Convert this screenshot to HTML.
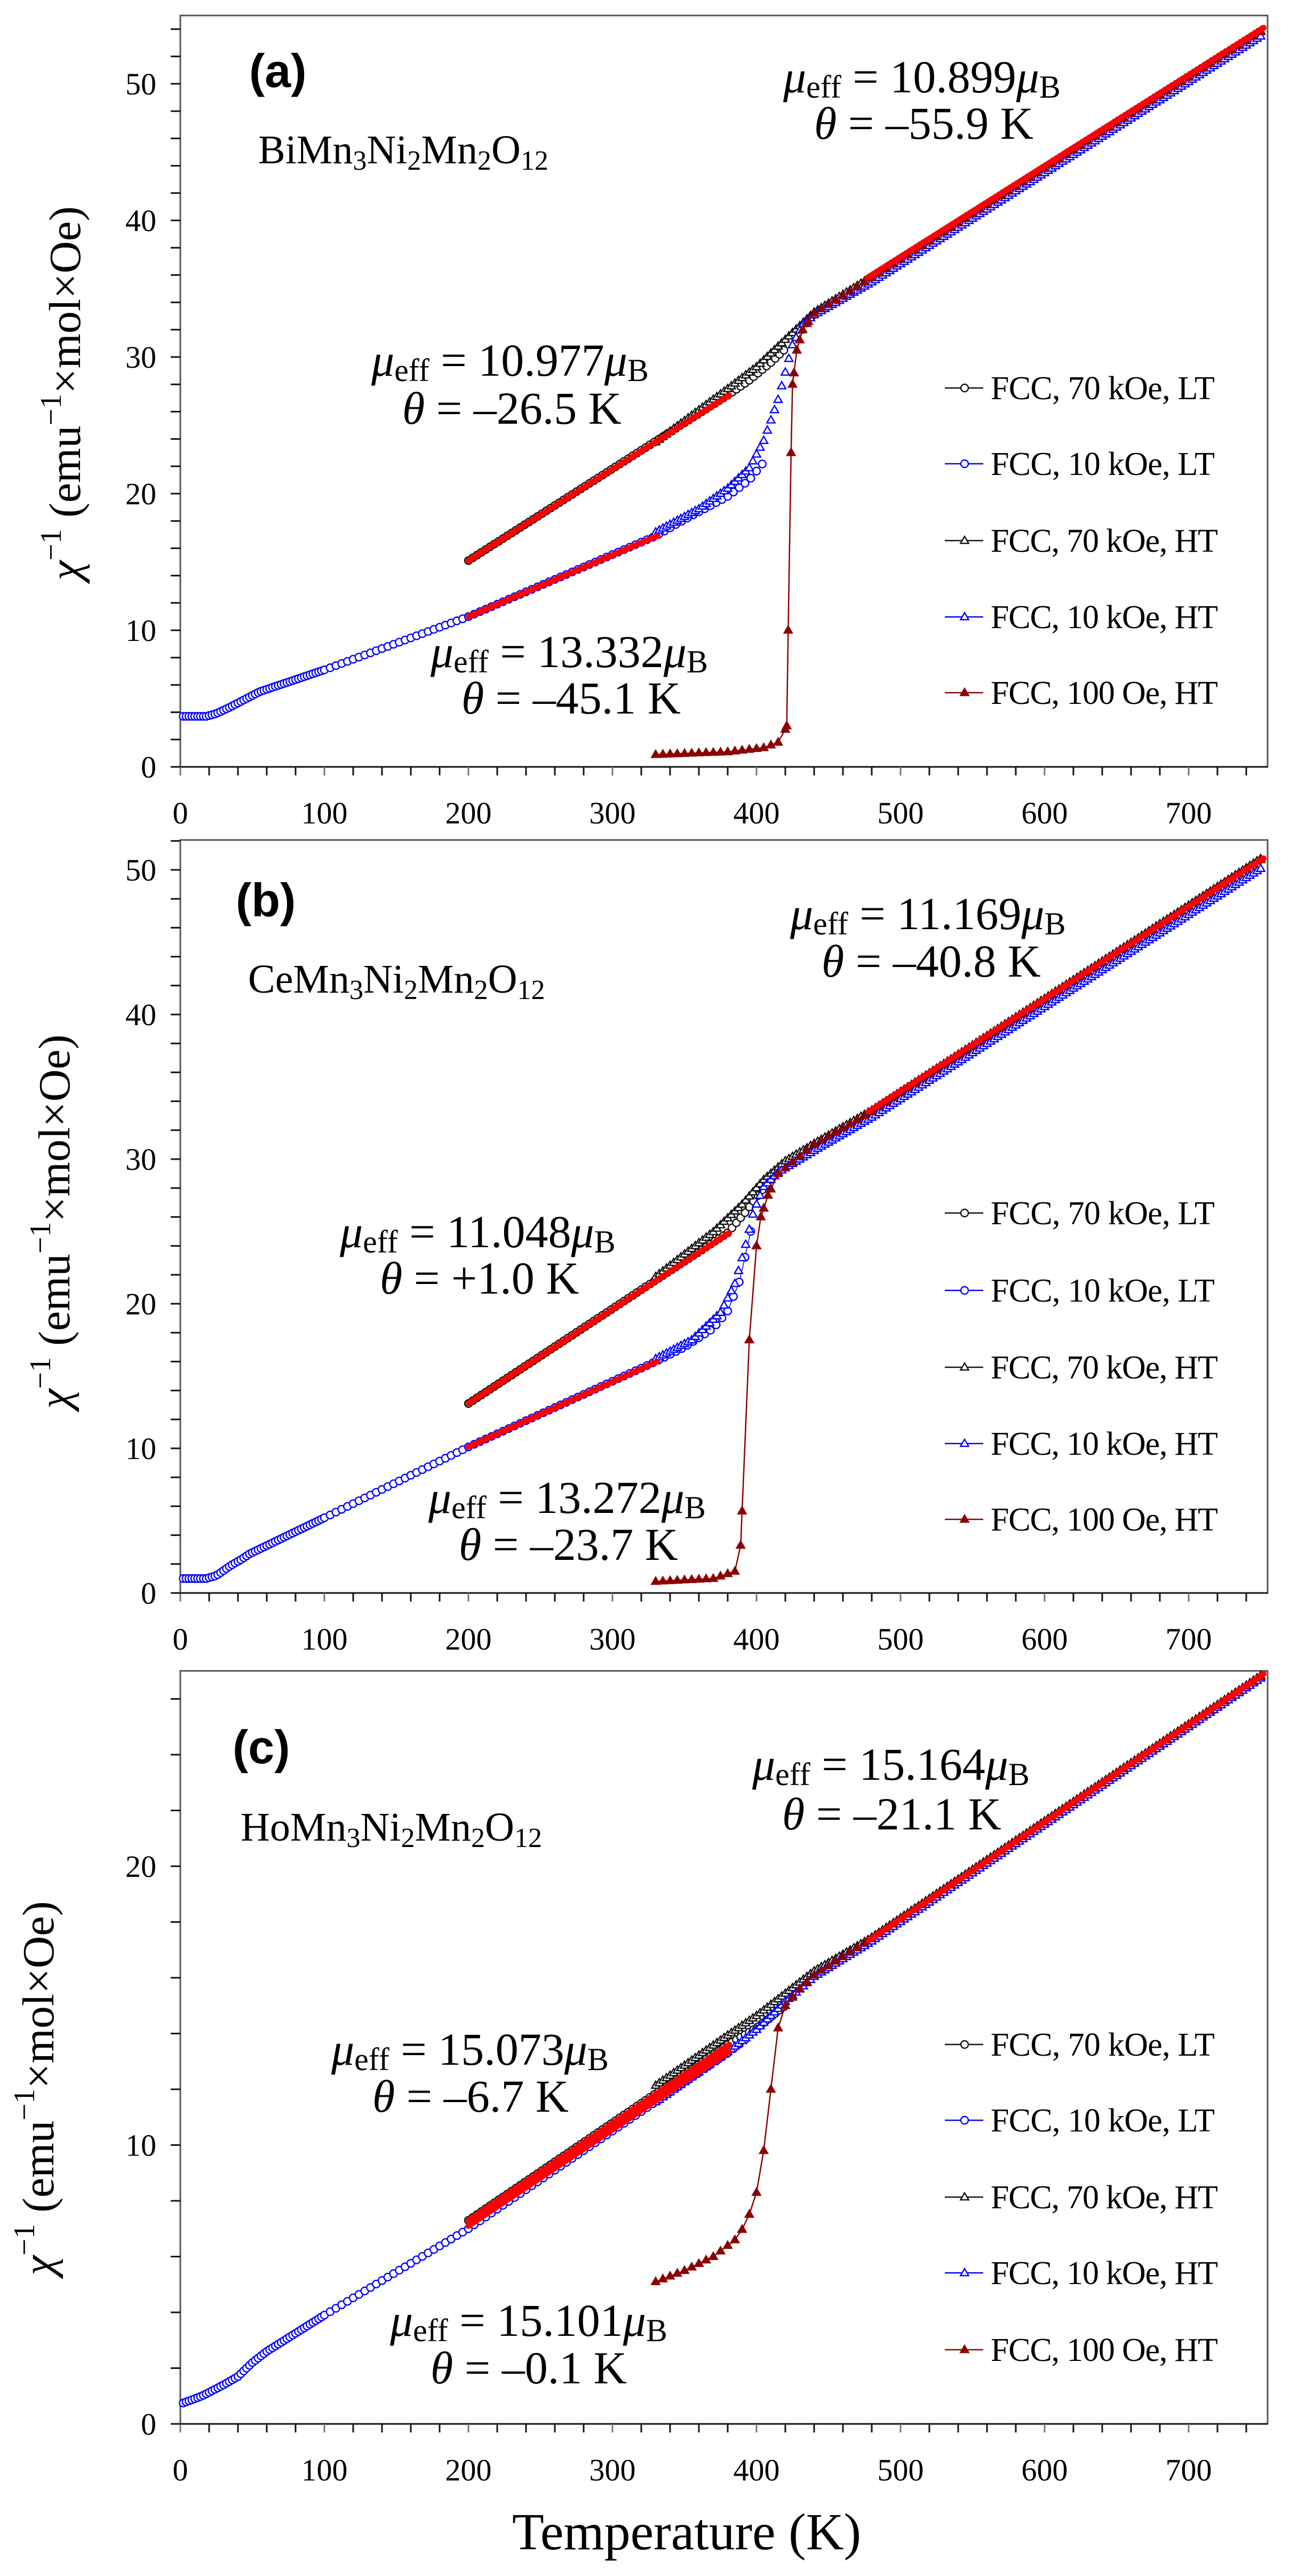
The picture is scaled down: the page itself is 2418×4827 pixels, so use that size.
<!DOCTYPE html>
<html><head><meta charset="utf-8">
<style>
html,body{margin:0;padding:0;background:#fff;}
svg{display:block;}
</style></head>
<body>
<svg id="s" xmlns="http://www.w3.org/2000/svg" width="2418" height="4827" viewBox="0 0 2418 4827" font-family="'Liberation Serif', serif"></svg>
<script>
const S=document.getElementById('s');
let out='';
const SER="font-family=\"'Liberation Serif', serif\"";
const X0=338,PX=2.7,RIGHT=2376;
function interp(kp,T){
  if(T<=kp[0][0])return kp[0][1];
  for(let i=1;i<kp.length;i++){
    if(T<=kp[i][0]){const a=kp[i-1],b=kp[i];return a[1]+(b[1]-a[1])*(T-a[0])/(b[0]-a[0]);}
  }
  return kp[kp.length-1][1];
}
function range(a,b,st){const r=[];for(let t=a;t<=b+1e-6;t+=st)r.push(t);return r;}
function tri(x,y,r,fill,stroke){
  return `<polygon points="${x},${y-r} ${x-r*0.95},${y+r*0.65} ${x+r*0.95},${y+r*0.65}" fill="${fill}" stroke="${stroke}" stroke-width="2.4"/>`;
}
function panel(P){
  const fx=T=>X0+T*PX, fy=v=>P.y0-v*P.pyu;
  out+=`<rect x="${X0}" y="${P.top}" width="${RIGHT-X0}" height="${P.y0-P.top}" fill="none" stroke="#555" stroke-width="3"/>`;
  out+=`<line x1="320" y1="${P.y0}" x2="${RIGHT}" y2="${P.y0}" stroke="#111" stroke-width="3"/>`;
  for(let T=0;T<=750;T+=20){const x=fx(T);out+=`<line x1="${x}" y1="${P.y0}" x2="${x}" y2="${P.y0+16}" stroke="${T%100==0?'#777':'#111'}" stroke-width="3"/>`;}
  for(let T=0;T<=700;T+=100){out+=`<text ${SER} x="${fx(T)}" y="${P.y0+106}" font-size="58" text-anchor="middle">${T}</text>`;}
  for(let v=0;v<=P.ymax;v+=2){const y=fy(v);out+=`<line x1="${X0-18}" y1="${y}" x2="${X0}" y2="${y}" stroke="#111" stroke-width="3"/>`;}
  for(let v=0;v<=P.ymax;v+=10){out+=`<text ${SER} x="${X0-45}" y="${fy(v)+20}" font-size="58" text-anchor="end">${v}</text>`;}
  out+=`<text ${SER} transform="translate(${P.lx},${P.ly}) rotate(-90)" font-size="84" text-anchor="middle"><tspan font-style="italic">χ</tspan><tspan font-size="56" dy="-36">−1</tspan><tspan dy="36"> (emu</tspan><tspan font-size="56" dy="-36">−1</tspan><tspan dy="36">×mol×Oe)</tspan></text>`;
  const pts=(kp,a,b,st)=>range(a,b,st).map(T=>[fx(T),fy(interp(kp,T))]);
  let s='';
  let p=pts(P.bLT,2,100,2).concat(pts(P.bLT,104,P.bLTend,4));
  s+=`<polyline points="${p.map(q=>q.join(',')).join(' ')}" fill="none" stroke="#00f" stroke-width="1.5"/>`;
  p.forEach(q=>s+=`<circle cx="${q[0]}" cy="${q[1]}" r="7" fill="#fff" stroke="#00f" stroke-width="2.4"/>`);
  p=pts(P.kLT,200,P.kLTend,3);
  p.forEach(q=>s+=`<circle cx="${q[0]}" cy="${q[1]}" r="7" fill="#fff" stroke="#111" stroke-width="2.4"/>`);
  p=pts(P.kHT,330,750,2.5);
  p.forEach(q=>s+=tri(q[0],q[1]-2,8,'#fff','#111'));
  p=pts(P.bHT,330,750,2.5);
  p.forEach(q=>s+=tri(q[0],q[1]+3,8,'#fff','#00f'));
  p=range(330,750,5).map(T=>[fx(T),fy(interp(P.r100,T))]);
  if(P.extra)P.extra.forEach(T=>p.push([fx(T),fy(interp(P.r100,T))]));
  p.sort((a,b)=>a[0]-b[0]);
  s+=`<polyline points="${p.map(q=>q.join(',')).join(' ')}" fill="none" stroke="#8b0000" stroke-width="2.5"/>`;
  p.forEach(q=>s+=tri(q[0],q[1],8,'#8b0000','#8b0000'));
  P.fits.forEach(f=>{s+=`<line x1="${fx(f[0])}" y1="${fy(f[1])}" x2="${fx(f[2])}" y2="${fy(f[3])}" stroke="#f00" stroke-width="11" stroke-linecap="round"/>`;});
  out+=s;
  const labs=['FCC, 70 kOe, LT','FCC, 10 kOe, LT','FCC, 70 kOe, HT','FCC, 10 kOe, HT','FCC, 100 Oe, HT'];
  const cols=['#111','#00f','#111','#00f','#8b0000'];
  P.leg.forEach((y,i)=>{
    out+=`<line x1="1771" y1="${y}" x2="1843" y2="${y}" stroke="${cols[i]}" stroke-width="2.5"/>`;
    if(i<2)out+=`<circle cx="1808" cy="${y}" r="7" fill="#fff" stroke="${cols[i]}" stroke-width="2.4"/>`;
    else out+=tri(1808,y,8,i==4?'#8b0000':'#fff',cols[i]);
    out+=`<text ${SER} x="1857" y="${y+21}" font-size="62" textLength="${i>=2?426:420}" lengthAdjust="spacing">${labs[i]}</text>`;
  });
  out+=`<text x="${P.let[0]}" y="${P.let[1]}" font-size="88" font-weight="bold" font-family="'Liberation Sans', sans-serif">${P.let[2]}</text>`;
  out+=`<text ${SER} x="${P.f[0]}" y="${P.f[1]}" font-size="76">${P.f[2]}Mn<tspan font-size="52" dy="12">3</tspan><tspan dy="-12">Ni</tspan><tspan font-size="52" dy="12">2</tspan><tspan dy="-12">Mn</tspan><tspan font-size="52" dy="12">2</tspan><tspan dy="-12">O</tspan><tspan font-size="52" dy="12">12</tspan></text>`;
  P.ann.forEach(a=>{
    out+=`<text ${SER} x="${a[0]}" y="${a[1]}" font-size="86"><tspan font-style="italic">μ</tspan><tspan font-size="60" dy="10">eff</tspan><tspan dy="-10"> = ${a[2]}</tspan><tspan font-style="italic">μ</tspan><tspan font-size="60" dy="10">B</tspan></text>`;
    out+=`<text ${SER} x="${a[3]}" y="${a[4]}" font-size="86"><tspan font-style="italic">θ</tspan> = ${a[5]}</text>`;
  });
}
panel({y0:1437,pyu:25.6,top:29,ymax:54,lx:150,ly:737,
 bLT:[[2,3.7],[18,3.7],[25,3.9],[35,4.4],[55,5.5],[100,7.1],[200,11],[330,16.9],[350,18.1],[380,19.8],[395,21],[405,22.3]],bLTend:405,
 kLT:[[200,15.1],[380,27.2],[395,28.3],[410,29.6],[420,30.6]],kLTend:420,
 kHT:[[330,23.7],[380,27.6],[400,29.2],[420,31.2],[440,33.2],[480,35.8],[750,53.8]],
 bHT:[[330,17.3],[360,19],[380,20.5],[395,22],[405,24],[415,27],[420,29],[425,31],[432,32.5],[440,33.2],[480,35.6],[750,53.6]],
 r100:[[330,0.9],[380,1.1],[405,1.4],[415,1.8],[419,2.5],[421,3],[422,10],[424,23],[425,28],[428,30.5],[432,32],[440,33.2],[480,35.8],[750,53.8]],
 extra:[421,422,424,426,428,432,436],
 fits:[[200,15.1,381,27.2],[200,11,331,16.9],[477,35.8,752,54.1]],
 leg:[727,869,1013,1156,1298],
 let:[467,163,'(a)'],f:[484,306,'Bi'],
 ann:[[696,704,'10.977',754,794,'–26.5 K'],[807,1250,'13.332',865,1337,'–45.1 K'],[1468,173,'10.899',1526,260,'–55.9 K']]
});
panel({y0:2985,pyu:27.1,top:1574,ymax:52,lx:130,ly:2289,
 bLT:[[2,1.0],[18,1.0],[25,1.2],[35,1.9],[42,2.3],[48,2.7],[100,5.2],[200,10.1],[330,16.0],[350,17],[370,18.3],[380,19.5],[388,21.5],[395,24.5],[398,26]],bLTend:398,
 kLT:[[200,13.1],[380,24.9],[392,26.3],[405,28],[415,29.2]],kLTend:415,
 kHT:[[330,21.8],[370,24.9],[390,26.8],[405,28.5],[420,29.8],[440,31],[480,33.3],[750,50.7]],
 bHT:[[330,16.3],[355,17.6],[375,19.5],[385,21.5],[392,24],[398,26.5],[405,28.2],[415,29.2],[440,30.7],[480,33],[750,50.2]],
 r100:[[330,0.8],[370,1.0],[385,1.5],[389,3.3],[395,17.5],[400,24],[403,26],[408,27.5],[415,29],[440,31],[480,33.3],[750,50.7]],
 extra:[389,395,400,403,408],
 fits:[[200,13.1,381,24.9],[200,10.1,331,16.0],[478,33.3,752,50.8]],
 leg:[2273,2418,2562,2705,2847],
 let:[442,1717,'(b)'],f:[465,1860,'Ce'],
 ann:[[637,2337,'11.048',712,2424,'+1.0 K'],[803,2835,'13.272',860,2923,'–23.7 K'],[1481,1741,'11.169',1540,1830,'–40.8 K']]
});
panel({y0:4542,pyu:52.25,top:3131,ymax:26,lx:100,ly:3913,
 bLT:[[2,0.75],[15,1.0],[30,1.4],[40,1.7],[50,2.2],[60,2.6],[100,3.9],[200,7.0],[380,13.3],[395,13.9]],bLTend:395,
 kLT:[[200,7.3],[380,13.6],[400,14.2],[420,15]],kLTend:420,
 kHT:[[330,12.1],[380,13.9],[400,14.6],[420,15.4],[440,16.2],[478,17.34],[750,26.8]],
 bHT:[[330,11.6],[380,13.4],[400,14.2],[420,15.2],[440,16.1],[478,17.3],[750,26.8]],
 r100:[[330,5.1],[350,5.5],[370,6.0],[385,6.6],[393,7.2],[400,8.3],[405,9.8],[410,12],[415,14.2],[420,15],[430,15.6],[440,16.1],[478,17.34],[750,26.8]],
 fits:[[200,7.3,381,13.6],[200,7.1,381,13.35],[478,17.34,752,26.9]],
 leg:[3831,3973,4117,4259,4403],
 let:[436,3304,'(c)'],f:[451,3449,'Ho'],
 ann:[[621,3869,'15.073',698,3957,'–6.7 K'],[731,4377,'15.101',807,4466,'–0.1 K'],[1410,3335,'15.164',1466,3428,'–21.1 K']]
});
out+=`<text ${SER} x="1287" y="4777" font-size="98" text-anchor="middle">Temperature (K)</text>`;
S.innerHTML=out;
</script>
</body></html>
